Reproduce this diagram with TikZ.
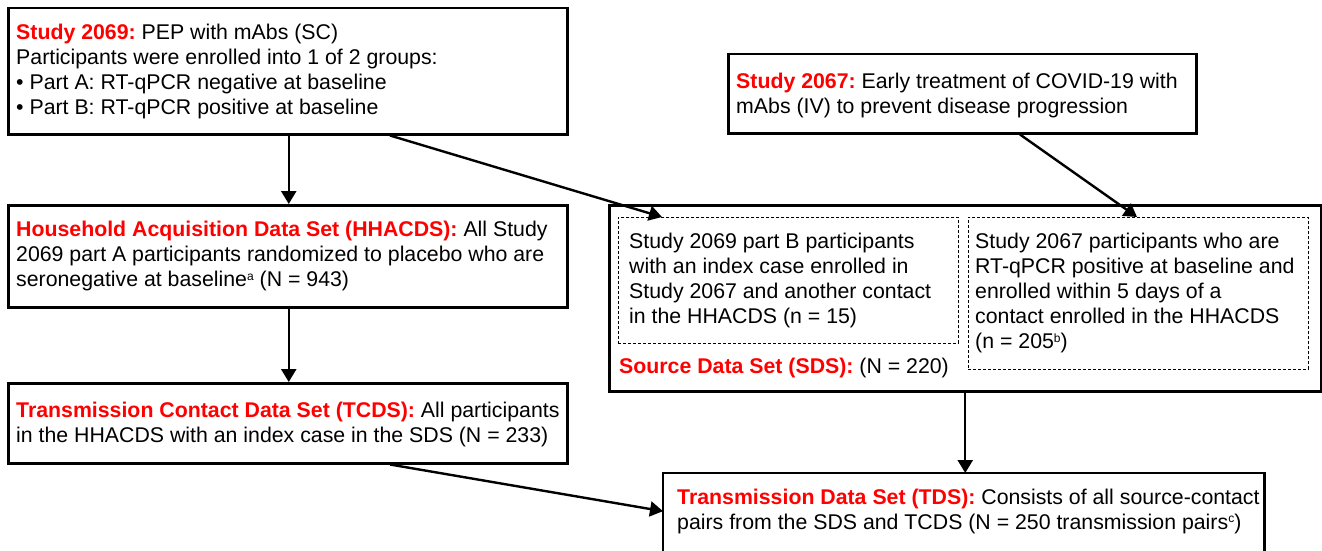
\documentclass[tikz,border=0pt]{standalone}
\usepackage{fontspec}
\setmainfont{Liberation Sans}
\usetikzlibrary{arrows.meta,calc}
\definecolor{hdred}{RGB}{255,0,0}
\newcommand{\hd}[1]{\textcolor{hdred}{\textbf{#1}}}
\newcommand{\smsup}[1]{\raisebox{6.5pt}{\fontsize{12}{12}\selectfont #1}}
\begin{document}
\frenchspacing
\begin{tikzpicture}[x=1pt,y=-1pt,
  txt/.style={font=\fontsize{21.3}{25}\selectfont\frenchspacing, inner sep=0pt, align=left, anchor=west},
  box/.style={draw, line width=2.5pt, inner sep=0pt, anchor=north west},
  dbox/.style={draw, line width=0.9pt, dash pattern=on 3pt off 2pt, inner sep=0pt, anchor=north west},
  arr/.style={line width=2.4pt, -{Triangle[length=13pt,width=15pt]}}]
\useasboundingbox (0,0) rectangle (1322,551);
\fill[white] (0,0) rectangle (1322,551);

% boxes
\node[box, minimum width=559pt, minimum height=126pt] (s2069) at (7,7) {};
\node[box, minimum width=468pt, minimum height=79pt] (s2067) at (727,53) {};
\node[box, minimum width=559pt, minimum height=102pt] (hh) at (7,204) {};
\node[box, minimum width=559pt, minimum height=80pt] (tc) at (7,382) {};
\node[box, minimum width=712pt, minimum height=186pt] (sds) at (608,204) {};
\node[dbox, minimum width=340pt, minimum height=126pt] (dl) at (618,217) {};
\node[dbox, minimum width=340pt, minimum height=152pt] (dr) at (968,217) {};
\node[inner sep=0pt, anchor=north west, minimum width=601pt, minimum height=76pt] (tds) at (663,473) {};
\draw[line width=2.5pt] ([yshift=-12pt]tds.south west) -- (tds.north west)
  -- (tds.north east) -- ([yshift=-12pt]tds.south east);

% texts
\node[txt] (t2069) at ([xshift=9pt]s2069.west)
  {\hd{Study 2069:} PEP with mAbs (SC)\\
   Participants were enrolled into 1 of 2 groups:\\
   • Part A: RT-qPCR negative at baseline\\
   • Part B: RT-qPCR positive at baseline};
\node[txt] (t2067) at ([xshift=9pt,yshift=-2pt]s2067.west)
  {\hd{Study 2067:} Early treatment of COVID-19 with\\
   mAbs (IV) to prevent disease progression};
\node[txt] (thh) at ([xshift=9pt]hh.west)
  {\hd{Household Acquisition Data Set (HHACDS):} All Study\\
   2069 part A participants randomized to placebo who are\\
   seronegative at baseline\smsup{a} (N = 943)};
\node[txt] (ttc) at ([xshift=9pt,yshift=-1pt]tc.west)
  {\hd{Transmission Contact Data Set (TCDS):} All participants\\
   in the HHACDS with an index case in the SDS (N = 233)};
\node[txt] (tdl) at ([xshift=11pt]dl.west)
  {Study 2069 part B participants\\
   with an index case enrolled in\\
   Study 2067 and another contact\\
   in the HHACDS (n = 15)};
\node[txt] (tdr) at ([xshift=7pt]dr.west)
  {Study 2067 participants who are\\
   RT-qPCR positive at baseline and\\
   enrolled within 5 days of a\\
   contact enrolled in the HHACDS\\
   (n = 205\smsup{b})};
\node[txt, anchor=base west] (tsds) at (619,373)
  {\hd{Source Data Set (SDS):} (N = 220)};
\node[txt] (ttds) at ([xshift=14pt]tds.west)
  {\hd{Transmission Data Set (TDS):} Consists of all source-contact\\
   pairs from the SDS and TCDS (N = 250 transmission pairs\smsup{c})};

% connectors
\draw[arr] ([xshift=1pt]s2069.south) -- ([xshift=1pt]hh.north);
\draw[arr] ([xshift=1pt]hh.south) -- ([xshift=1pt]tc.north);
\draw[arr] ([xshift=383pt]s2069.south west) -- ([xshift=44pt]dl.north west);
\draw[arr] ([xshift=293pt]s2067.south west) -- ([xshift=169pt]dr.north west);
\draw[arr] (sds.south) -- (sds.south |- tds.north);
\draw[arr] ([xshift=383pt]tc.south west) -- (tds.west);
\end{tikzpicture}
\end{document}
